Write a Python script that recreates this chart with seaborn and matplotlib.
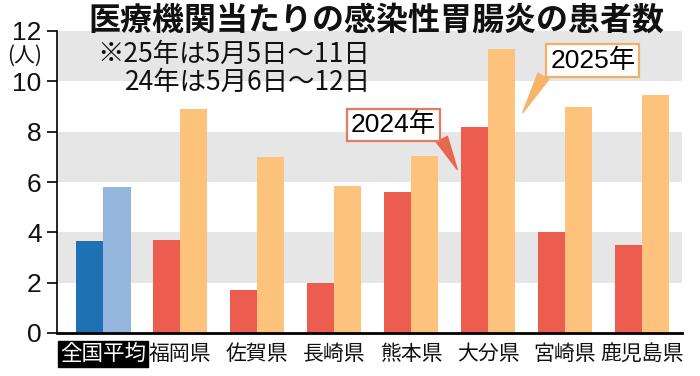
import matplotlib
matplotlib.use("Agg")
import matplotlib.pyplot as plt
import seaborn as sns
import pandas as pd

categories = ["全国平均", "福岡県", "佐賀県", "長崎県", "熊本県", "大分県", "宮崎県", "鹿児島県"]
values_2024 = [3.65, 3.7, 1.7, 2.0, 5.6, 8.2, 4.0, 3.5]
values_2025 = [5.8, 8.9, 7.0, 5.85, 7.05, 11.3, 9.0, 9.45]
years = ["2024年", "2025年"]
yticks = [0, 2, 4, 6, 8, 10, 12]

title = "医療機関当たりの感染性胃腸炎の患者数"
note1 = "※25年は5月5日～11日"
note2 = "24年は5月6日～12日"
unit = "(人)"

RED = "#ec5d4f"
ORANGE = "#fdc27c"
DBLUE = "#1f71b5"
LBLUE = "#94b6dc"
BAND = "#e6e6e6"

sns.set_theme(style="white")
plt.rcParams["font.family"] = ["Noto Sans CJK JP", "DejaVu Sans"]
LATIN = ["Liberation Sans", "Noto Sans CJK JP"]

df = pd.DataFrame({
    "pref": categories * 2,
    "year": [years[0]] * len(categories) + [years[1]] * len(categories),
    "val": values_2024 + values_2025,
})

fig = plt.figure(figsize=(7.0, 3.76), dpi=100)
ax = fig.add_axes([57 / 700, 1 - 333 / 376, (682 - 57) / 700, (333 - 31) / 376])

for lo in (2, 6, 10):
    ax.axhspan(lo, lo + 2, color=BAND, lw=0, zorder=0)

sns.barplot(data=df, x="pref", y="val", hue="year", order=categories,
            hue_order=years, palette=[RED, ORANGE], width=0.71, gap=0,
            saturation=1, legend=False, ax=ax, zorder=2, linewidth=0, edgecolor="none")

# national average bars in blue
nat = sorted([p for p in ax.patches if p.get_x() + p.get_width() / 2 < 0.5],
             key=lambda p: p.get_x())
if len(nat) == 2:
    nat[0].set_facecolor(DBLUE)
    nat[1].set_facecolor(LBLUE)

ax.set_xlim(-0.6, 7.52)
ax.set_ylim(0, 12)
ax.set_yticks(yticks)
ax.set_yticklabels([str(v) for v in yticks], fontsize=19, color="#111111",
                   family=["Liberation Sans"])
ax.set_xlabel("")
ax.set_ylabel("")
ax.tick_params(axis="y", direction="out", length=7, width=1.2, color="black", pad=4, left=True)
ax.tick_params(axis="x", length=0, pad=7, labelsize=15, labelcolor="#111111")
for s in ("top", "right"):
    ax.spines[s].set_visible(False)
ax.spines["left"].set_color("black")
ax.spines["left"].set_linewidth(1.2)
ax.spines["bottom"].set_color("black")
ax.spines["bottom"].set_linewidth(2)

for lab in ax.get_xticklabels():
    if lab.get_text() == "全国平均":
        lab.set_color("white")
        lab.set_fontsize(15.5)
        lab.set_bbox(dict(boxstyle="square,pad=0.1", fc="black", ec="black"))

# annotation labels with speech-bubble pointers
ax.text(3.77, 8.28, "2024年", ha="center", va="center", fontsize=19, family=LATIN,
        color="black", zorder=6,
        bbox=dict(boxstyle="square,pad=0.15", fc="white", ec="#e47a62", lw=1.6))
ax.annotate("", xy=(4.6, 6.5), xytext=(4.4, 7.7), textcoords="data", zorder=5,
            arrowprops=dict(arrowstyle="wedge,tail_width=0.45", mutation_scale=20,
                            fc="#e8674f", ec="#e8674f", shrinkA=0, shrinkB=0))
ax.text(6.36, 10.83, "2025年", ha="center", va="center", fontsize=19, family=LATIN,
        color="black", zorder=6,
        bbox=dict(boxstyle="square,pad=0.15", fc="white", ec="#f2b066", lw=1.6))
ax.annotate("", xy=(5.45, 8.75), xytext=(5.72, 10.2), textcoords="data", zorder=5,
            arrowprops=dict(arrowstyle="wedge,tail_width=0.45", mutation_scale=20,
                            fc="#f5b469", ec="#f5b469", shrinkA=0, shrinkB=0))

fig.text(88 / 700, 1 - 21 / 376, title, ha="left", va="center", fontsize=23,
         fontweight="bold", color="#111111")
fig.text(97 / 700, 1 - 54 / 376, note1, ha="left", va="center", fontsize=19,
         color="#111111")
fig.text(125 / 700, 1 - 82 / 376, note2, ha="left", va="center", fontsize=19,
         color="#111111")
fig.text(25 / 700, 1 - 56 / 376, unit, ha="center", va="center", fontsize=15,
         color="#111111")

fig.savefig("out.png", dpi=100, facecolor="white")
